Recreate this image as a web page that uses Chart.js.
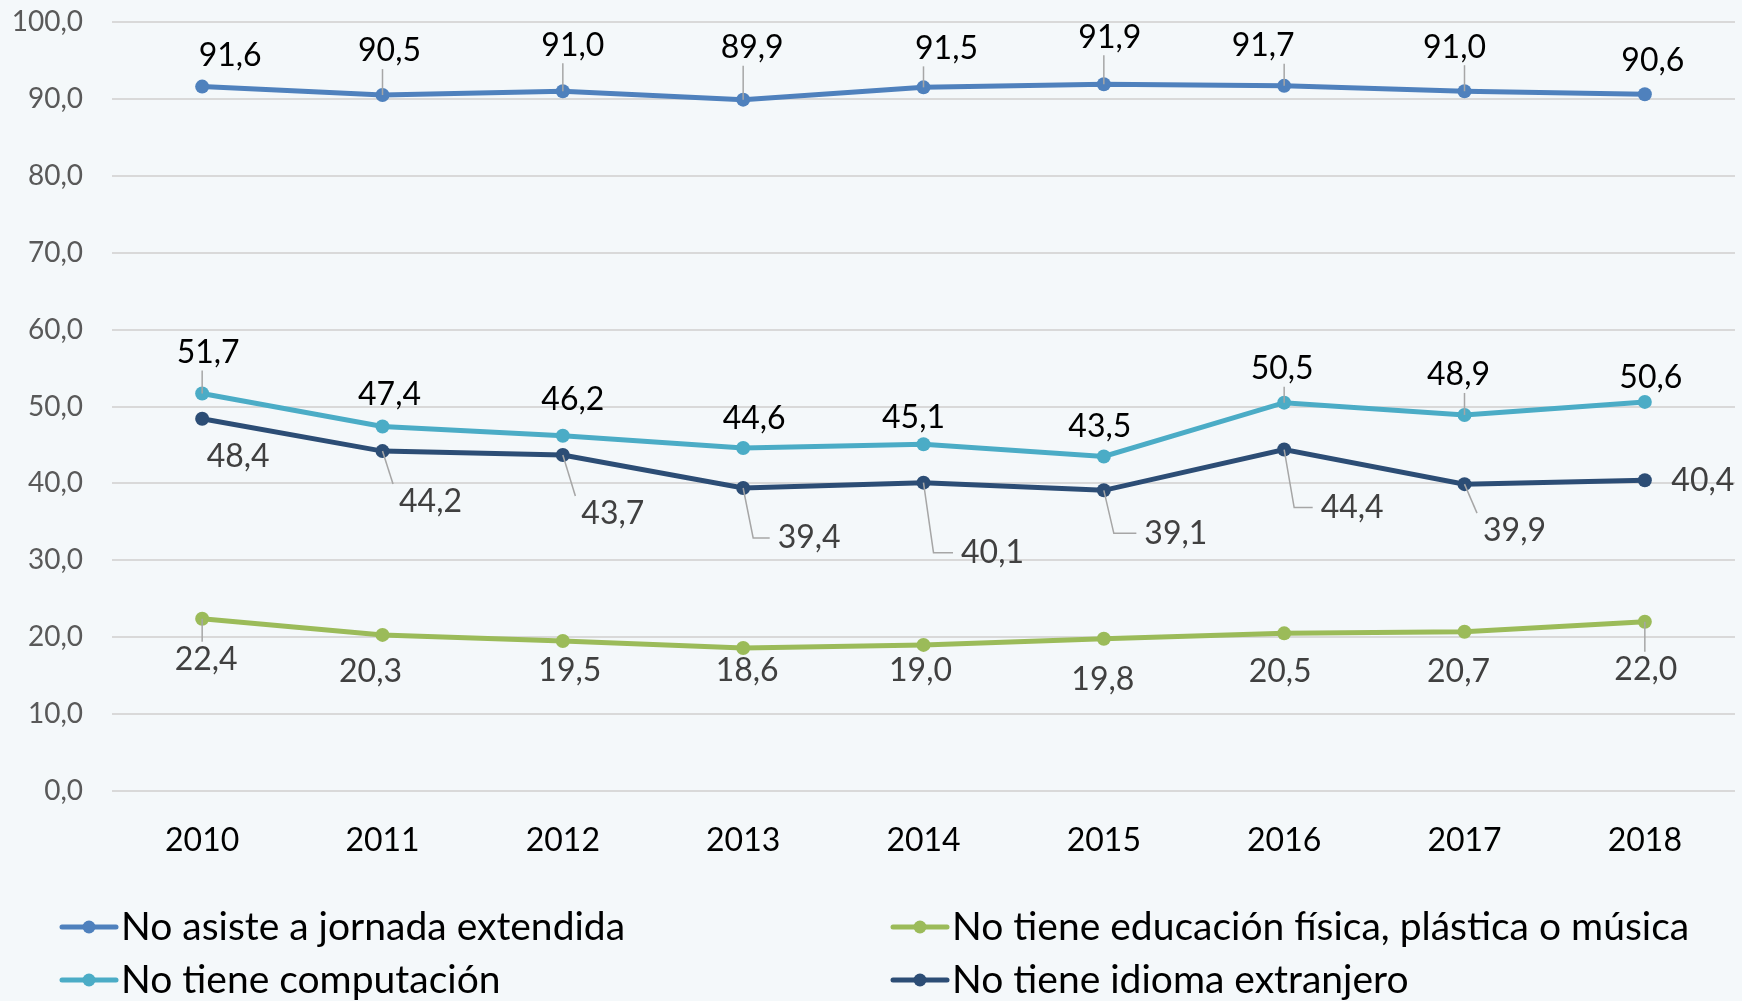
<!DOCTYPE html>
<html>
<head>
<meta charset="utf-8">
<script src="https://cdn.jsdelivr.net/npm/chart.js@4/dist/chart.umd.min.js"></script>
<style>
  html, body { margin: 0; padding: 0; background: #F4F8FA; }
  #wrap { width: 1742px; height: 1001px; }
</style>
</head>
<body>
<div id="wrap"><canvas id="chart" width="1742" height="1001"></canvas></div>
<script>
// data
var years = ['2010', '2011', '2012', '2013', '2014', '2015', '2016', '2017', '2018'];
var jornada = [91.6, 90.5, 91.0, 89.9, 91.5, 91.9, 91.7, 91.0, 90.6];
var computacion = [51.7, 47.4, 46.2, 44.6, 45.1, 43.5, 50.5, 48.9, 50.6];
var educacion = [22.4, 20.3, 19.5, 18.6, 19.0, 19.8, 20.5, 20.7, 22.0];
var idioma = [48.4, 44.2, 43.7, 39.4, 40.1, 39.1, 44.4, 39.9, 40.4];
var yTicks = [0, 10, 20, 30, 40, 50, 60, 70, 80, 90, 100];

// where each value label sits relative to its point (px), and its leader line
// (0 none, 1 straight, 2 with elbow)
var offJornada = [[28,-31],[7,-44],[10,-46],[9,-52],[23,-39],[6,-47],[-21,-40],[-10,-44],[8,-34]];
var leadJornada = [0, 1, 1, 1, 1, 1, 1, 1, 0];
var offComputacion = [[6,-41],[7,-32],[10,-36],[11,-29],[-10,-26],[-4,-30],[-2,-34],[-6,-40],[6,-24]];
var leadComputacion = [1, 0, 0, 0, 0, 0, 1, 1, 0];
var offEducacion = [[4,41],[-12,37],[7,30],[4,23],[-3,26],[-1,41],[-4,38],[-6,40],[1,48]];
var leadEducacion = [1, 0, 0, 0, 0, 0, 0, 0, 1];
var offIdioma = [[36,38],[48,51],[50,59],[66,50],[69,70],[72,43],[68,58],[50,47],[58,0]];
var leadIdioma = [0, 1, 1, 2, 2, 2, 2, 1, 0];

var FONT = 'Lato, "Open Sans", sans-serif';

function fmt(v) {
    return v.toFixed(1).replace('.', ',');
}

var labelsPlugin = {
    id: 'valueLabels',
    afterDatasetsDraw: function (chart) {
        var ctx = chart.ctx;
        ctx.save();
        ctx.font = '32px ' + FONT;
        ctx.textAlign = 'center';
        ctx.textBaseline = 'middle';
        chart.data.datasets.forEach(function (ds, di) {
            var meta = chart.getDatasetMeta(di);
            meta.data.forEach(function (pt, i) {
                var off = ds.labelOffsets[i];
                var text = fmt(ds.data[i]);
                var cx = pt.x + off[0], cy = pt.y + off[1];
                var w = ctx.measureText(text).width, h = 24;
                var lead = ds.leaders[i];
                if (lead) {
                    var l = cx - w / 2 - 6, r = cx + w / 2 + 6, t = cy - h / 2 - 6, b = cy + h / 2 + 6;
                    ctx.strokeStyle = '#A6A6A6';
                    ctx.lineWidth = 1.5;
                    ctx.beginPath();
                    ctx.moveTo(pt.x, pt.y);
                    if (lead === 2) {
                        ctx.lineTo(pt.x + 10, cy);
                        ctx.lineTo(l - 2, cy);
                    } else {
                        var tx = Math.min(Math.max(pt.x, l), r);
                        var ty = Math.min(Math.max(pt.y, t), b);
                        ctx.lineTo(tx, ty);
                    }
                    ctx.stroke();
                }
                ctx.fillStyle = ds.labelColor;
                ctx.fillText(text, cx, cy);
            });
        });
        ctx.restore();
    }
};

var legendPlugin = {
    id: 'twoColLegend',
    afterDraw: function (chart) {
        var ctx = chart.ctx;
        var colX = [62, 893], rowY = [927, 980];
        ctx.save();
        ctx.font = '39px ' + FONT;
        ctx.textBaseline = 'middle';
        ctx.textAlign = 'left';
        chart.data.datasets.forEach(function (ds, i) {
            var x = colX[Math.floor(i / 2)], y = rowY[i % 2];
            ctx.strokeStyle = ds.borderColor;
            ctx.lineWidth = 5;
            ctx.lineCap = 'round';
            ctx.beginPath();
            ctx.moveTo(x, y);
            ctx.lineTo(x + 54, y);
            ctx.stroke();
            ctx.fillStyle = ds.borderColor;
            ctx.beginPath();
            ctx.arc(x + 27, y, 6.5, 0, Math.PI * 2);
            ctx.fill();
            ctx.fillStyle = '#000000';
            ctx.fillText(ds.label, x + 59, y);
        });
        ctx.restore();
    }
};

function series(label, data, color, offsets, leaders, labelColor) {
    return {
        label: label,
        data: data,
        borderColor: color,
        backgroundColor: color,
        borderWidth: 5,
        pointRadius: 7,
        pointHoverRadius: 7,
        pointBorderWidth: 0,
        fill: false,
        tension: 0,
        labelOffsets: offsets,
        leaders: leaders,
        labelColor: labelColor
    };
}

var ctx = document.getElementById('chart').getContext('2d');
var chart = new Chart(ctx, {
    type: 'line',
    data: {
        labels: years,
        datasets: [
            series('No asiste a jornada extendida', jornada, '#4F81BD', offJornada, leadJornada, '#000000'),
            series('No tiene computación', computacion, '#4BACC6', offComputacion, leadComputacion, '#000000'),
            series('No tiene educación física, plástica o música', educacion, '#9BBB59', offEducacion, leadEducacion, '#404040'),
            series('No tiene idioma extranjero', idioma, '#2C4D75', offIdioma, leadIdioma, '#404040')
        ]
    },
    options: {
        responsive: false,
        animation: false,
        layout: { padding: { top: 22, right: 0, left: 0, bottom: 0 } },
        plugins: {
            legend: { display: false },
            tooltip: { enabled: false }
        },
        scales: {
            x: {
                offset: true,
                grid: { display: false, drawTicks: false },
                border: { display: false },
                ticks: { color: '#000000', font: { family: FONT, size: 32 }, padding: 30 },
                afterFit: function (scale) { scale.height = 210; }
            },
            y: {
                min: 0,
                max: 100,
                afterBuildTicks: function (scale) {
                    scale.ticks = yTicks.map(function (v) { return { value: v }; });
                },
                grid: { color: '#D9D9D9', lineWidth: 2, drawTicks: false },
                border: { display: false },
                ticks: {
                    color: '#595959',
                    font: { family: FONT, size: 28 },
                    padding: 29,
                    callback: function (v) { return fmt(v); }
                },
                afterFit: function (scale) {
                    scale.width = 112;
                    scale.paddingTop = 0;
                    scale.paddingBottom = 0;
                }
            }
        }
    },
    plugins: [labelsPlugin, legendPlugin]
});
</script>
</body>
</html>
